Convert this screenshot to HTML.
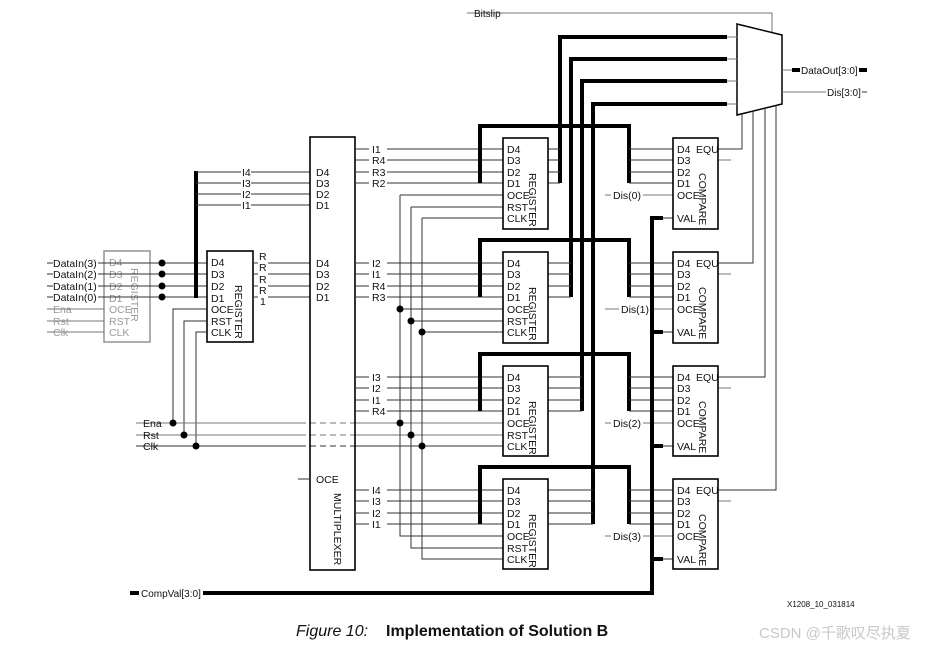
<!DOCTYPE html>
<html><head><meta charset="utf-8"><style>
html,body{margin:0;padding:0;background:#fff;width:936px;height:647px;overflow:hidden}
svg{display:block}
text{font-family:"Liberation Sans",sans-serif;font-size:10.5px;fill:#111}
.g text{fill:#999}
.th{stroke:#000;stroke-width:4;fill:none}
.ln{stroke:#333;stroke-width:1;fill:none}
.lg{stroke:#777;stroke-width:1;fill:none}
.bx{stroke:#000;stroke-width:1.6;fill:#fff}
.vt{writing-mode:vertical-rl;font-size:10.5px}
</style></head><body>
<svg width="936" height="647" viewBox="0 0 936 647" xmlns="http://www.w3.org/2000/svg">
<path class="lg" d="M467 13H772V33"/>
<text x="474" y="17" style="font-size:10px">Bitslip</text>
<polygon points="737,24 782,35 782,104 737,115" fill="#fff" stroke="#000" stroke-width="1.5"/>
<path class="lg" d="M782 70H792M782 92H826"/>
<path class="th" d="M792 70H800M859 70H867"/>
<text x="801" y="74" style="font-size:10px">DataOut[3:0]</text>
<text x="827" y="96" style="font-size:10px">Dis[3:0]</text>
<path class="ln" d="M862 92H867"/>
<path class="th" d="M560 183V37H727M571 297V59H727M582 411V81H727M593 524V104H727"/>
<path class="lg" d="M727 37H737M727 59H737M727 81H737M727 104H737"/>
<path class="ln" d="M718 149H742V114M718 263H753V111M718 377H765V108M718 490H776V105"/>
<path class="lg" d="M718 160H731M718 274H731M718 388H731M718 501H731"/>

<g class="g">
<rect x="104" y="251" width="46" height="91" fill="none" stroke="#999" stroke-width="1.6"/>
<text x="109" y="266">D4</text><text x="109" y="278">D3</text><text x="109" y="290">D2</text><text x="109" y="302">D1</text>
<text x="109" y="313">OCE</text><text x="109" y="325">RST</text><text x="109" y="336">CLK</text>
<text x="134" y="268" class="vt" style="fill:#999">REGISTER</text>
<path class="lg" d="M47 309H104M47 321H104M47 332H104" stroke="#aaa"/>
<text x="53" y="313">Ena</text><text x="53" y="325">Rst</text><text x="53" y="336">Clk</text>
</g>
<path class="ln" d="M47 263H207M47 274H207M47 286H207M47 297H207"/>
<g><rect x="53" y="257" width="45" height="46" fill="#fff"/>
<text x="53" y="267">DataIn(3)</text><text x="53" y="278">DataIn(2)</text><text x="53" y="290">DataIn(1)</text><text x="53" y="301">DataIn(0)</text></g>
<circle cx="162" cy="263" r="3.5"/><circle cx="162" cy="274" r="3.5"/><circle cx="162" cy="286" r="3.5"/><circle cx="162" cy="297" r="3.5"/>
<path class="th" d="M196 171V298"/>
<path class="ln" d="M196 172H310M196 183H310M196 194H310M196 205H310"/>
<rect x="241" y="166" width="10" height="44" fill="#fff"/>
<text x="242" y="176">I4</text><text x="242" y="187">I3</text><text x="242" y="198">I2</text><text x="242" y="209">I1</text>
<rect class="bx" x="207" y="251" width="46" height="91"/>
<text x="211" y="266">D4</text><text x="211" y="278">D3</text><text x="211" y="290">D2</text><text x="211" y="302">D1</text>
<text x="211" y="313">OCE</text><text x="211" y="325">RST</text><text x="211" y="336">CLK</text>
<text x="238" y="285" class="vt">REGISTER</text>
<path class="ln" d="M253 263H310M253 274H310M253 286H310M253 297H310"/>
<rect x="258" y="252" width="10" height="56" fill="#fff"/>
<text x="259" y="260">R</text><text x="259" y="271">R</text><text x="259" y="283">R</text><text x="259" y="294">R</text><text x="260" y="305">1</text>
<path class="ln" d="M173 423V309H207M184 435V321H207M196 446V332H207"/>
<path class="lg" d="M136 423H300M136 435H300"/><path class="ln" d="M136 446H300"/>
<path class="lg" d="M300 423H355M300 435H355" stroke-dasharray="6,4"/><path class="ln" d="M300 446H355" stroke-dasharray="6,4"/>
<path class="lg" d="M355 423H503M355 435H503"/><path class="ln" d="M355 446H503"/>
<text x="143" y="427">Ena</text><text x="143" y="439">Rst</text><text x="143" y="450">Clk</text>
<circle cx="173" cy="423" r="3.5"/><circle cx="184" cy="435" r="3.5"/><circle cx="196" cy="446" r="3.5"/>
<rect x="310" y="137" width="45" height="433" fill="none" stroke="#000" stroke-width="1.6"/>
<text x="316" y="176">D4</text><text x="316" y="187">D3</text><text x="316" y="198">D2</text><text x="316" y="209">D1</text>
<text x="316" y="267">D4</text><text x="316" y="278">D3</text><text x="316" y="290">D2</text><text x="316" y="301">D1</text>
<path class="ln" d="M298 479H310"/><text x="316" y="483">OCE</text>
<text x="337" y="493" class="vt">MULTIPLEXER</text>

<path class="ln" d="M400 195V536H503M411 207V548H503M422 218V559H503"/>
<path class="ln" d="M400 195H503M411 207H503M422 218H503M400 309H503M411 321H503M422 332H503"/>
<circle cx="400" cy="309" r="3.5"/><circle cx="411" cy="321" r="3.5"/><circle cx="422" cy="332" r="3.5"/>
<circle cx="400" cy="423" r="3.5"/><circle cx="411" cy="435" r="3.5"/><circle cx="422" cy="446" r="3.5"/>

<path class="ln" d="M355 149H503M355 160H503M355 172H503M355 183H503M355 263H503M355 274H503M355 286H503M355 297H503M355 377H503M355 388H503M355 400H503M355 411H503M355 490H503M355 501H503M355 513H503M355 524H503"/>
<g>
<rect x="369" y="143" width="18" height="45" fill="#fff"/><rect x="369" y="257" width="18" height="45" fill="#fff"/><rect x="369" y="371" width="18" height="45" fill="#fff"/><rect x="369" y="484" width="18" height="45" fill="#fff"/>
<text x="372" y="153">I1</text><text x="372" y="164">R4</text><text x="372" y="176">R3</text><text x="372" y="187">R2</text>
<text x="372" y="267">I2</text><text x="372" y="278">I1</text><text x="372" y="290">R4</text><text x="372" y="301">R3</text>
<text x="372" y="381">I3</text><text x="372" y="392">I2</text><text x="372" y="404">I1</text><text x="372" y="415">R4</text>
<text x="372" y="494">I4</text><text x="372" y="505">I3</text><text x="372" y="517">I2</text><text x="372" y="528">I1</text>
</g>
<path class="th" d="M480 183V126H629V183M480 297V240H629V297M480 411V354H629V411M480 524V467H629V524"/>
<path class="ln" d="M548 149H560M548 160H560M548 172H560M548 183H560"/>
<path class="ln" d="M548 263H571M548 274H571M548 286H571M548 297H571"/>
<path class="ln" d="M548 377H582M548 388H582M548 400H582M548 411H582"/>
<path class="ln" d="M548 490H593M548 501H593M548 513H593M548 524H593"/>
<path class="ln" d="M629 149H673M629 160H673M629 172H673M629 183H673M629 263H673M629 274H673M629 286H673M629 297H673M629 377H673M629 388H673M629 400H673M629 411H673M629 490H673M629 501H673M629 513H673M629 524H673"/>
<path class="lg" d="M605 195H673M605 309H673M605 423H673M605 536H673"/>
<rect x="611" y="189" width="32" height="12" fill="#fff"/><rect x="619" y="303" width="32" height="12" fill="#fff"/><rect x="611" y="417" width="32" height="12" fill="#fff"/><rect x="611" y="530" width="32" height="12" fill="#fff"/>
<text x="613" y="199">Dis(0)</text><text x="621" y="313">Dis(1)</text><text x="613" y="427">Dis(2)</text><text x="613" y="540">Dis(3)</text>
<path class="th" d="M663 218H652V593H130"/>
<path class="th" d="M652 332H663M652 446H663M652 559H663"/>
<path class="ln" d="M663 218H673M663 332H673M663 446H673M663 559H673"/>
<rect x="139" y="587" width="64" height="12" fill="#fff"/>
<text x="141" y="597" style="font-size:10px">CompVal[3:0]</text>

<g>
<rect class="bx" x="503" y="138" width="45" height="91"/>
<rect class="bx" x="503" y="252" width="45" height="91"/>
<rect class="bx" x="503" y="366" width="45" height="90"/>
<rect class="bx" x="503" y="479" width="45" height="90"/>
<rect class="bx" x="673" y="138" width="45" height="91"/>
<rect class="bx" x="673" y="252" width="45" height="91"/>
<rect class="bx" x="673" y="366" width="45" height="90"/>
<rect class="bx" x="673" y="479" width="45" height="90"/>
</g>
<g>
<text x="507" y="153">D4</text><text x="507" y="164">D3</text><text x="507" y="176">D2</text><text x="507" y="187">D1</text><text x="507" y="199">OCE</text><text x="507" y="211">RST</text><text x="507" y="222">CLK</text>
<text x="507" y="267">D4</text><text x="507" y="278">D3</text><text x="507" y="290">D2</text><text x="507" y="301">D1</text><text x="507" y="313">OCE</text><text x="507" y="325">RST</text><text x="507" y="336">CLK</text>
<text x="507" y="381">D4</text><text x="507" y="392">D3</text><text x="507" y="404">D2</text><text x="507" y="415">D1</text><text x="507" y="427">OCE</text><text x="507" y="439">RST</text><text x="507" y="450">CLK</text>
<text x="507" y="494">D4</text><text x="507" y="505">D3</text><text x="507" y="517">D2</text><text x="507" y="528">D1</text><text x="507" y="540">OCE</text><text x="507" y="552">RST</text><text x="507" y="563">CLK</text>
<text x="532" y="173" class="vt">REGISTER</text><text x="532" y="287" class="vt">REGISTER</text><text x="532" y="401" class="vt">REGISTER</text><text x="532" y="514" class="vt">REGISTER</text>
<text x="677" y="153">D4</text><text x="696" y="153">EQU</text><text x="677" y="164">D3</text><text x="677" y="176">D2</text><text x="677" y="187">D1</text><text x="677" y="199">OCE</text><text x="677" y="222">VAL</text>
<text x="677" y="267">D4</text><text x="696" y="267">EQU</text><text x="677" y="278">D3</text><text x="677" y="290">D2</text><text x="677" y="301">D1</text><text x="677" y="313">OCE</text><text x="677" y="336">VAL</text>
<text x="677" y="381">D4</text><text x="696" y="381">EQU</text><text x="677" y="392">D3</text><text x="677" y="404">D2</text><text x="677" y="415">D1</text><text x="677" y="427">OCE</text><text x="677" y="450">VAL</text>
<text x="677" y="494">D4</text><text x="696" y="494">EQU</text><text x="677" y="505">D3</text><text x="677" y="517">D2</text><text x="677" y="528">D1</text><text x="677" y="540">OCE</text><text x="677" y="563">VAL</text>
<text x="702" y="173" class="vt">COMPARE</text><text x="702" y="287" class="vt">COMPARE</text><text x="702" y="401" class="vt">COMPARE</text><text x="702" y="514" class="vt">COMPARE</text>
</g>

<text x="787" y="607" style="font-size:8px">X1208_10_031814</text>
<text x="296" y="636" style="font-size:16px;font-style:italic">Figure 10:</text>
<text x="386" y="636" style="font-size:16px;font-weight:bold">Implementation of Solution B</text>
<text x="759" y="638" style='font-family:"Liberation Sans","Noto Sans CJK SC",sans-serif;font-size:15px;fill:#c8c8c8'>CSDN @千歌叹尽执夏</text>
</svg>
</body></html>
